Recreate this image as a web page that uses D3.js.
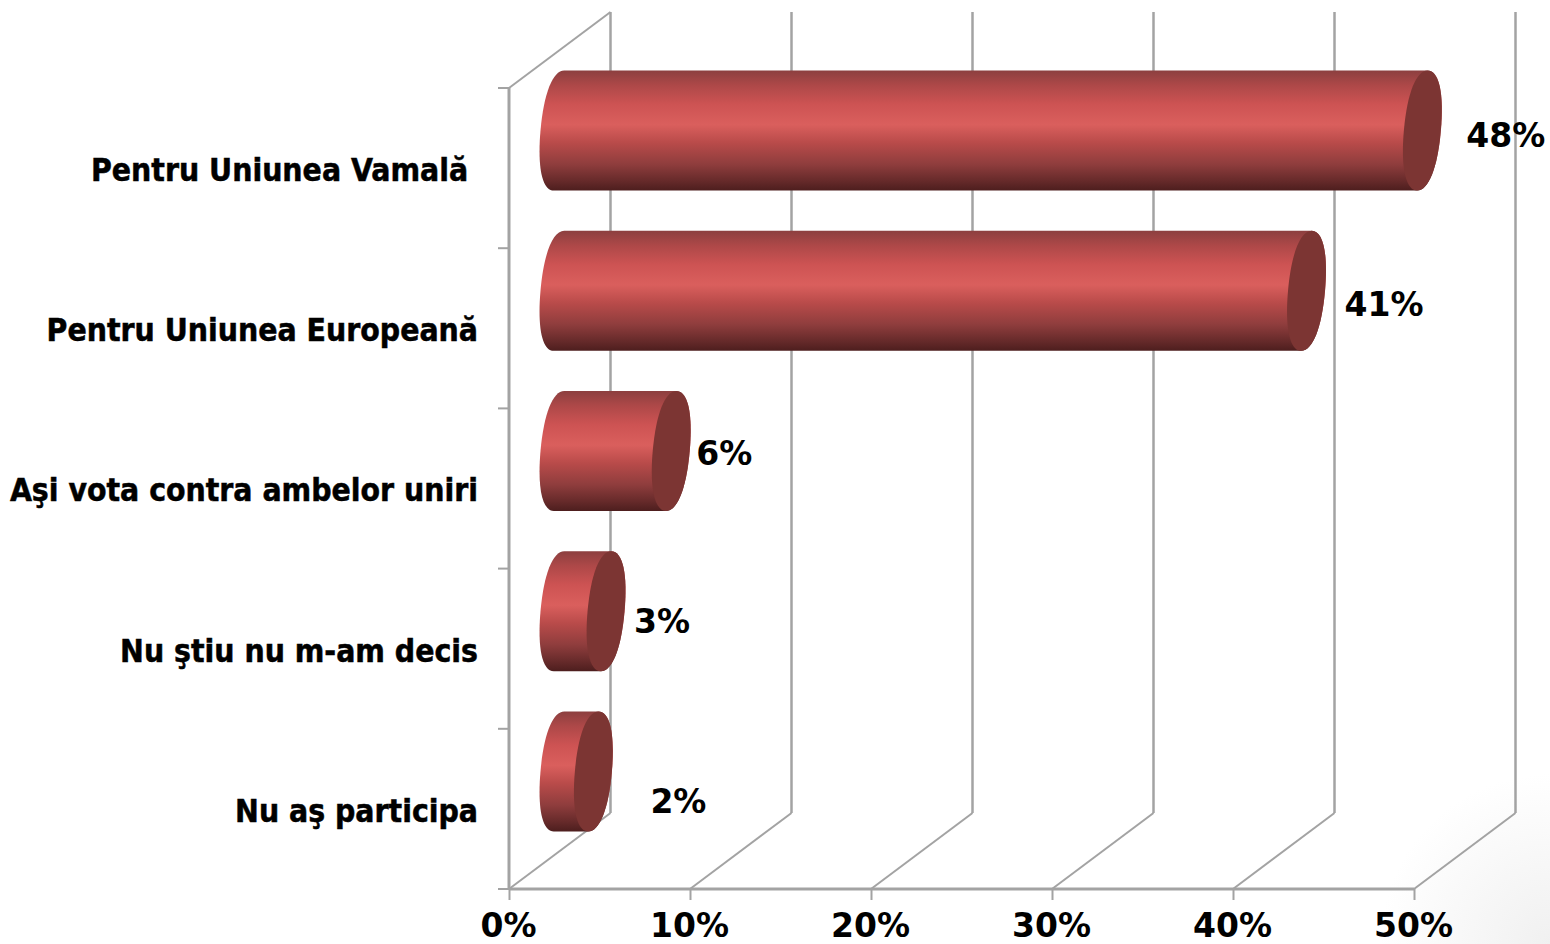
<!DOCTYPE html>
<html>
<head>
<meta charset="utf-8">
<script src="https://cdn.jsdelivr.net/npm/d3@7"></script>
<style>
html,body{margin:0;padding:0;background:#fff;overflow:hidden}
svg{display:block}
text{font-family:"DejaVu Sans",sans-serif;font-weight:bold;fill:#000;white-space:pre}
</style>
</head>
<body>
<div id="chart"></div>
<script>
const categories = ["Pentru Uniunea Vamală ", "Pentru Uniunea Europeană", "Aşi vota contra ambelor uniri", "Nu ştiu nu m-am decis", "Nu aş participa"];
const values = [47.7, 41.3, 6.2, 2.6, 1.9];
const valueLabels = ["48%", "41%", "6%", "3%", "2%"];
const xTicks = [0, 10, 20, 30, 40, 50];

// layout only
const W = 1550, H = 944;
const plot = {left: 509, right: 1414, top: 88, bottom: 889};
const depth = {x: 101.5, y: -76};
const barHeight = 120, capRx = 18.5, skewDeg = -5, fullness = 0.62;
const labelNudge = [[25, 5], [19, 13], [6, 2], [9, 10], [38, 30]];
const gridColor = "#a3a3a3";

const x = d3.scaleLinear().domain([0, 50]).range([plot.left, plot.right]);
const y = d3.scaleBand().domain(categories).range([plot.top, plot.bottom]);

const svg = d3.select("#chart").append("svg").attr("width", W).attr("height", H);
const defs = svg.append("defs");

const shade = defs.append("linearGradient").attr("id", "cyl").attr("x1", 0).attr("x2", 0).attr("y1", 0).attr("y2", 1);
[[0, "#8c3f3f"], [0.12, "#ad4848"], [0.28, "#cd5353"], [0.45, "#da5f5d"], [0.6, "#b94b4a"], [0.78, "#8f3d3d"], [0.92, "#662a2a"], [1, "#4d1e1e"]]
  .forEach(s => shade.append("stop").attr("offset", s[0]).attr("stop-color", s[1]));

const corner = defs.append("radialGradient").attr("id", "corner")
  .attr("gradientUnits", "userSpaceOnUse").attr("cx", W).attr("cy", H).attr("r", 170);
corner.append("stop").attr("offset", 0).attr("stop-color", "#f0f0f0");
corner.append("stop").attr("offset", 1).attr("stop-color", "#ffffff");
svg.append("rect").attr("x", W - 170).attr("y", H - 170).attr("width", 170).attr("height", 170).attr("fill", "url(#corner)");

// walls and gridlines
const grid = svg.append("g").attr("fill", "none").attr("stroke", gridColor);
grid.selectAll("line.back").data(xTicks).join("line").attr("class", "back")
  .attr("x1", d => x(d) + depth.x).attr("x2", d => x(d) + depth.x)
  .attr("y1", plot.top + depth.y).attr("y2", plot.bottom + depth.y).attr("stroke-width", 2.5);
grid.selectAll("line.floor").data(xTicks).join("line").attr("class", "floor")
  .attr("x1", d => x(d)).attr("x2", d => x(d) + depth.x)
  .attr("y1", plot.bottom).attr("y2", plot.bottom + depth.y).attr("stroke-width", 2);
grid.append("line").attr("x1", plot.left).attr("x2", plot.left + depth.x)
  .attr("y1", plot.top).attr("y2", plot.top + depth.y).attr("stroke-width", 2);

// axes
const yAxis = d3.axisLeft(y).tickSize(11).tickPadding(20).tickFormat(d => d);
const gy = svg.append("g").attr("transform", `translate(${plot.left},0)`).call(yAxis);
const xAxis = d3.axisBottom(x).tickValues(xTicks).tickSize(11).tickPadding(14).tickFormat(d => d + "%");
const gx = svg.append("g").attr("transform", `translate(0,${plot.bottom})`).call(xAxis);

gy.selectAll(".tick line").attr("stroke", gridColor).attr("stroke-width", 2)
  .attr("transform", `translate(0,${-y.bandwidth() / 2})`);
gy.append("line").attr("x1", -11).attr("x2", 0).attr("y1", plot.bottom).attr("y2", plot.bottom)
  .attr("stroke", gridColor).attr("stroke-width", 2);
gy.select(".domain").attr("stroke", gridColor).attr("stroke-width", 3)
  .attr("d", `M0,${plot.top}V${plot.bottom}`);
gy.selectAll(".tick text").attr("font-size", 31.6).attr("dy", "0.36em").attr("y", 1.5)
  .attr("stroke", "#000").attr("stroke-width", 0.5)
  .style("font-family", '"DejaVu Sans Condensed","DejaVu Sans",sans-serif');
gx.selectAll(".tick line").attr("stroke", gridColor).attr("stroke-width", 2);
gx.select(".domain").attr("stroke", gridColor).attr("stroke-width", 3)
  .attr("d", `M${plot.left},0H${plot.right}`);
gx.selectAll(".tick text").attr("font-size", 33).attr("x", -1);

// cylinders
const rows = categories.map((c, i) => ({c, v: values[i], label: valueLabels[i], nudge: labelNudge[i]}));
const ry = barHeight / 2;
const cx0 = x(0) + 50;
const cy = d => y(d.c) + y.bandwidth() / 2 + depth.y / 2 + 0.5;
const cx1 = d => cx0 + x(d.v) - x(0);
const kx = capRx * fullness, ky = ry * fullness;
const rightArc = c => `C${c + kx},${-ry} ${c + capRx},${-ky} ${c + capRx},0C${c + capRx},${ky} ${c + kx},${ry} ${c},${ry}`;
const leftArc = c => `C${c - kx},${ry} ${c - capRx},${ky} ${c - capRx},0C${c - capRx},${-ky} ${c - kx},${-ry} ${c},${-ry}`;

const bars = svg.selectAll("g.bar").data(rows).join("g").attr("class", "bar");
const tube = bars.append("g").attr("transform", d => `translate(0,${cy(d)}) skewX(${skewDeg})`);
tube.append("path")
  .attr("fill", "url(#cyl)")
  .attr("d", d => `M${cx0},${-ry}L${cx1(d)},${-ry}${rightArc(cx1(d))}L${cx0},${ry}${leftArc(cx0)}Z`);
tube.append("path")
  .attr("fill", "#7c3533")
  .attr("d", d => `M${cx1(d)},${-ry}${rightArc(cx1(d))}${leftArc(cx1(d))}Z`);

bars.append("text")
  .attr("x", d => cx1(d) + 19 + d.nudge[0])
  .attr("y", d => cy(d) + d.nudge[1])
  .attr("dy", "0.36em")
  .attr("font-size", 33)
  .text(d => d.label);
</script>
</body>
</html>
